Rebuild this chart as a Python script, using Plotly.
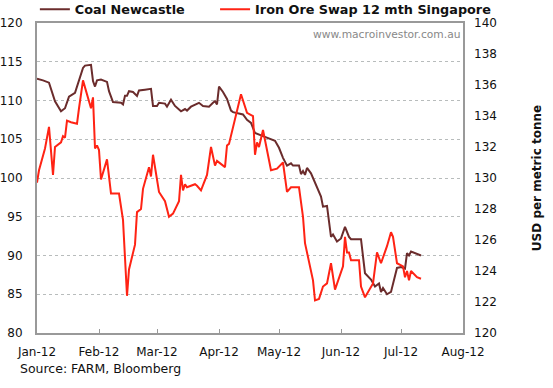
import plotly.graph_objects as go

coal_dates = ["2012-01-01","2012-01-04","2012-01-07","2012-01-10","2012-01-13","2012-01-15","2012-01-17","2012-01-20",
    "2012-01-24","2012-01-25","2012-01-28","2012-01-29","2012-01-30","2012-01-31","2012-02-02","2012-02-05","2012-02-06",
    "2012-02-08","2012-02-12","2012-02-13","2012-02-14","2012-02-15","2012-02-16","2012-02-18","2012-02-20","2012-02-21",
    "2012-02-24","2012-02-27","2012-02-28","2012-03-01","2012-03-02","2012-03-05","2012-03-06","2012-03-08","2012-03-10",
    "2012-03-13","2012-03-15","2012-03-16","2012-03-18","2012-03-20","2012-03-22","2012-03-24","2012-03-27","2012-03-29",
    "2012-03-30","2012-03-31","2012-04-01","2012-04-03","2012-04-05","2012-04-07","2012-04-08","2012-04-13","2012-04-15",
    "2012-04-17","2012-04-19","2012-04-23","2012-04-29","2012-05-01","2012-05-03","2012-05-05","2012-05-07","2012-05-08",
    "2012-05-11","2012-05-12","2012-05-13","2012-05-14","2012-05-15","2012-05-17","2012-05-20","2012-05-22","2012-05-23",
    "2012-05-25","2012-05-27","2012-05-28","2012-05-30","2012-06-01","2012-06-03","2012-06-05","2012-06-06","2012-06-11",
    "2012-06-12","2012-06-13","2012-06-16","2012-06-18","2012-06-20","2012-06-21","2012-06-22","2012-06-24","2012-06-26",
    "2012-06-27","2012-06-29","2012-07-01","2012-07-03","2012-07-04","2012-07-05","2012-07-06","2012-07-11"]
coal_values = [112.8,112.6,112.3,109.9,108.6,109.0,110.5,111.0,
    114.2,114.5,114.6,112.5,111.8,112.6,112.7,112.4,111.2,
    109.8,109.7,109.5,110.6,110.6,111.2,111.1,110.6,111.3,
    111.4,111.5,109.3,109.3,109.7,109.6,109.2,110.1,109.3,
    108.6,108.9,108.7,109.2,109.4,109.7,109.3,109.2,109.7,
    109.9,109.5,111.8,111.1,110.2,108.7,108.5,108.2,107.5,
    107.1,105.8,105.4,104.8,103.9,102.6,101.6,101.9,101.6,
    101.6,100.5,100.9,100.4,101.3,100.6,98.7,97.6,96.3,
    96.4,92.4,92.7,91.8,92.2,93.7,92.4,92.1,92.1,
    89.9,87.7,86.9,86.0,86.4,85.3,85.8,85.0,85.3,
    86.4,88.4,88.5,88.3,90.3,90.0,90.5,90.0]

iron_dates = ["2012-01-01","2012-01-02","2012-01-05","2012-01-07","2012-01-09","2012-01-10","2012-01-13","2012-01-14",
    "2012-01-15","2012-01-16","2012-01-18","2012-01-21","2012-01-22","2012-01-24","2012-01-28","2012-01-29","2012-01-30",
    "2012-01-31","2012-02-01","2012-02-02","2012-02-05","2012-02-07","2012-02-11","2012-02-13","2012-02-15","2012-02-16",
    "2012-02-19","2012-02-20","2012-02-22","2012-02-23","2012-02-26","2012-02-27","2012-02-28","2012-03-01","2012-03-02",
    "2012-03-05","2012-03-07","2012-03-09","2012-03-12","2012-03-13","2012-03-14","2012-03-15","2012-03-16","2012-03-20",
    "2012-03-21","2012-03-23","2012-03-26","2012-03-28","2012-03-30","2012-03-31","2012-04-04","2012-04-05","2012-04-06",
    "2012-04-12","2012-04-15","2012-04-18","2012-04-19","2012-04-20","2012-04-21","2012-04-23","2012-04-25","2012-04-27",
    "2012-04-30","2012-05-03","2012-05-05","2012-05-07","2012-05-11","2012-05-13","2012-05-14","2012-05-16","2012-05-18",
    "2012-05-19","2012-05-21","2012-05-23","2012-05-25","2012-05-27","2012-05-29","2012-06-02","2012-06-03","2012-06-04",
    "2012-06-05","2012-06-06","2012-06-10","2012-06-11","2012-06-13","2012-06-17","2012-06-19","2012-06-21","2012-06-24",
    "2012-06-26","2012-06-27","2012-06-29","2012-07-02","2012-07-03","2012-07-04","2012-07-05","2012-07-06","2012-07-09",
    "2012-07-11"]
iron_values = [129.7,130.5,131.9,133.3,130.2,132.0,132.3,132.7,
    132.6,133.7,133.6,133.5,134.5,136.3,134.5,135.2,131.9,
    132.1,131.8,129.9,131.2,129.0,129.0,127.3,122.4,124.1,
    125.7,127.8,128.0,129.3,130.7,130.1,131.5,129.9,129.1,
    128.5,127.5,127.7,128.5,130.2,129.2,129.6,129.4,129.6,
    129.5,129.2,130.2,132.0,130.8,131.1,130.7,132.1,132.2,
    135.4,134.2,134.0,131.5,132.3,132.0,133.1,131.8,130.5,
    130.6,131.0,129.1,129.4,129.4,127.5,125.8,124.6,123.4,
    122.1,122.2,123.0,123.2,124.5,122.8,124.3,126.2,125.2,
    125.2,124.7,124.7,123.0,122.3,123.2,125.2,124.5,125.6,
    126.5,126.2,124.5,124.3,123.6,124.0,123.4,124.0,123.6,
    123.5]

month_ticks = ["2012-01-01","2012-02-01","2012-03-01","2012-04-01","2012-05-01","2012-06-01","2012-07-01","2012-08-01"]
month_labels = ["Jan-12","Feb-12","Mar-12","Apr-12","May-12","Jun-12","Jul-12","Aug-12"]

FONT = "'DejaVu Sans', Verdana, sans-serif"
COAL = "#6B2C2C"
IRON = "#FF2314"

fig = go.Figure()
fig.add_trace(go.Scatter(x=coal_dates, y=coal_values, mode="lines", name="Coal Newcastle",
                         line=dict(color=COAL, width=2), yaxis="y", legend="legend"))
fig.add_trace(go.Scatter(x=iron_dates, y=iron_values, mode="lines", name="Iron Ore Swap 12 mth Singapore",
                         line=dict(color=IRON, width=2), yaxis="y2", legend="legend2"))

legend_font = dict(family=FONT, size=12.8, color="#111", weight="bold")
fig.update_layout(
    width=553, height=388,
    margin=dict(l=37, r=90, t=23, b=55, autoexpand=False),
    paper_bgcolor="white", plot_bgcolor="white",
    font=dict(family=FONT, size=12, color="#111"),
    showlegend=True,
    legend=dict(orientation="h", x=-0.005, xanchor="left", y=1.092, yanchor="top",
                font=legend_font, bgcolor="rgba(0,0,0,0)", borderwidth=0, itemwidth=30),
    legend2=dict(orientation="h", x=0.418, xanchor="left", y=1.092, yanchor="top",
                 font=legend_font, bgcolor="rgba(0,0,0,0)", borderwidth=0, itemwidth=30),
    xaxis=dict(type="date", range=["2012-01-01", "2012-08-01"],
               tickvals=month_ticks, ticktext=month_labels,
               ticks="inside", ticklen=4, tickcolor="#999", ticklabelstandoff=7,
               showgrid=False, showline=True, linecolor="#999", linewidth=2, mirror=True,
               tickfont=dict(size=12), zeroline=False),
    yaxis=dict(range=[80, 120], dtick=5, tick0=80,
               showgrid=True, gridcolor="#B8BCBC", griddash="dot", gridwidth=1,
               showline=True, linecolor="#999", linewidth=2, mirror=True,
               ticks="", ticklabelstandoff=10, tickfont=dict(size=12), zeroline=False),
    yaxis2=dict(range=[120, 140], dtick=2, tick0=120, overlaying="y", side="right",
                showgrid=False, showline=False, ticks="", ticklabelstandoff=10,
                tickfont=dict(size=12), zeroline=False,
                title=dict(text="<b>USD per metric tonne</b>", font=dict(size=12), standoff=36)),
    annotations=[
        dict(text="www.macroinvestor.com.au", xref="paper", yref="paper", x=0.998, y=0.989,
             xanchor="right", yanchor="top", showarrow=False,
             font=dict(family=FONT, size=10.7, color="#888")),
        dict(text="Source: FARM, Bloomberg", xref="paper", yref="paper", x=-0.045, y=-0.085,
             xanchor="left", yanchor="top", showarrow=False,
             font=dict(family=FONT, size=12.5, color="#111")),
    ],
)

fig.write_html("out.html", config={"displayModeBar": False},
               post_script="document.body.style.margin='0px';")
